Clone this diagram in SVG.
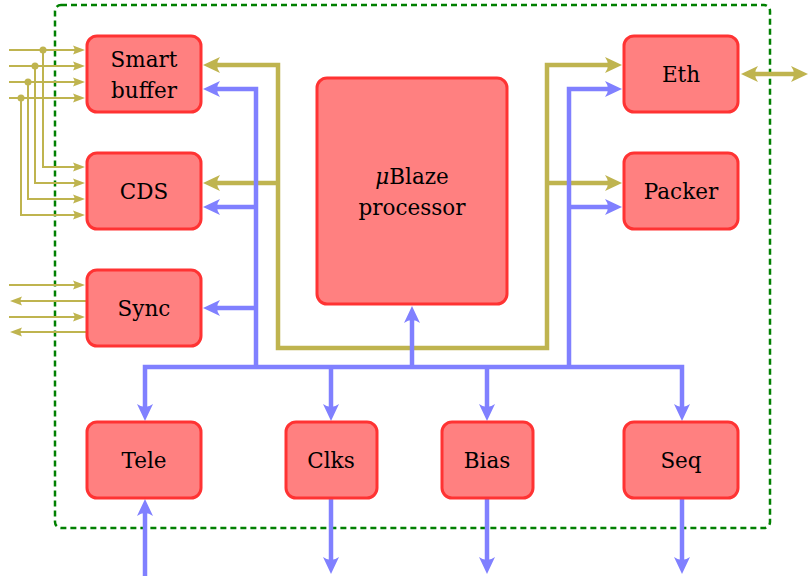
<svg xmlns="http://www.w3.org/2000/svg" width="810" height="576" viewBox="0 0 810 576">
<style>
.box{fill:#FF8080;stroke:#FF3333;stroke-width:3}
.gold{fill:none;stroke:#BFB44F;stroke-width:4.5}
.blue{fill:none;stroke:#8080FF;stroke-width:4.5}
.thin{fill:none;stroke:#BFB44F;stroke-width:2}
text{font-family:"DejaVu Serif",serif;font-size:21.5px;text-anchor:middle;fill:#000}
</style>
<defs>
<marker id="ag" markerUnits="userSpaceOnUse" viewBox="-12 -9 20 18" refX="0" refY="0" markerWidth="20" markerHeight="18" orient="auto-start-reverse" overflow="visible"><path d="M6,0 L-11,-8 Q-5,0 -11,8 Z" fill="#BFB44F"/></marker>
<marker id="ab" markerUnits="userSpaceOnUse" viewBox="-12 -9 20 18" refX="0" refY="0" markerWidth="20" markerHeight="18" orient="auto-start-reverse" overflow="visible"><path d="M6,0 L-11,-8 Q-5,0 -11,8 Z" fill="#8080FF"/></marker>
<marker id="at" markerUnits="userSpaceOnUse" viewBox="-9 -6 15 12" refX="0" refY="0" markerWidth="15" markerHeight="12" orient="auto-start-reverse" overflow="visible"><path d="M5,0 L-7,-4.5 Q-4,0 -7,4.5 Z" fill="#BFB44F"/></marker>
</defs>
<rect x="55" y="5" width="715" height="523" rx="6" fill="none" stroke="#008000" stroke-width="2.5" stroke-dasharray="6,4"/>
<g id="connectors">
<path class="gold" d="M209,65 H278 V348 H547 V65 H616" marker-start="url(#ag)" marker-end="url(#ag)"/>
<path class="gold" d="M278,183 H209" marker-end="url(#ag)"/>
<path class="gold" d="M547,183 H616" marker-end="url(#ag)"/>
<path class="gold" d="M747,74 H802" marker-start="url(#ag)" marker-end="url(#ag)"/>
<path class="blue" d="M145,415 V367 H682 V415" marker-start="url(#ab)" marker-end="url(#ab)"/>
<path class="blue" d="M209,89 H256 V367" marker-start="url(#ab)"/>
<path class="blue" d="M256,207 H209" marker-end="url(#ab)"/>
<path class="blue" d="M256,308 H209" marker-end="url(#ab)"/>
<path class="blue" d="M569,367 V89 H616" marker-end="url(#ab)"/>
<path class="blue" d="M569,207 H616" marker-end="url(#ab)"/>
<path class="blue" d="M412,367 V312" marker-end="url(#ab)"/>
<path class="blue" d="M331,367 V415" marker-end="url(#ab)"/>
<path class="blue" d="M487,367 V415" marker-end="url(#ab)"/>
<path class="blue" d="M145,576 V505" marker-end="url(#ab)"/>
<path class="blue" d="M331,499 V568" marker-end="url(#ab)"/>
<path class="blue" d="M487,499 V568" marker-end="url(#ab)"/>
<path class="blue" d="M682,499 V568" marker-end="url(#ab)"/>
<path class="thin" d="M9,50 H80" marker-end="url(#at)"/>
<path class="thin" d="M9,66 H80" marker-end="url(#at)"/>
<path class="thin" d="M9,82 H80" marker-end="url(#at)"/>
<path class="thin" d="M9,98 H80" marker-end="url(#at)"/>
<path class="thin" d="M43,50 V167 H80" marker-end="url(#at)"/>
<path class="thin" d="M35,66 V183 H80" marker-end="url(#at)"/>
<path class="thin" d="M28,82 V199 H80" marker-end="url(#at)"/>
<path class="thin" d="M21,98 V215 H80" marker-end="url(#at)"/>
<g fill="#BFB44F"><circle cx="43" cy="50" r="3.5"/><circle cx="35" cy="66" r="3.5"/><circle cx="28" cy="82" r="3.5"/><circle cx="21" cy="98" r="3.5"/></g>
<path class="thin" d="M9,285 H80" marker-end="url(#at)"/>
<path class="thin" d="M86,301 H15" marker-end="url(#at)"/>
<path class="thin" d="M9,317 H80" marker-end="url(#at)"/>
<path class="thin" d="M86,332 H15" marker-end="url(#at)"/>
</g>
<g id="smartbuffer"><rect class="box" x="87" y="36" width="114" height="76" rx="10"/><text x="144" y="67">Smart</text><text x="144" y="98">buffer</text></g>
<g id="cds"><rect class="box" x="87" y="153" width="114" height="76" rx="10"/><text x="144" y="199">CDS</text></g>
<g id="sync"><rect class="box" x="87" y="270" width="114" height="76" rx="10"/><text x="144" y="316">Sync</text></g>
<g id="ublaze"><rect class="box" x="317" y="78" width="190" height="226" rx="10"/><text x="412" y="184"><tspan font-style="italic">μ</tspan>Blaze</text><text x="412" y="215">processor</text></g>
<g id="eth"><rect class="box" x="624" y="36" width="114" height="76" rx="10"/><text x="681" y="82">Eth</text></g>
<g id="packer"><rect class="box" x="624" y="153" width="114" height="76" rx="10"/><text x="681" y="199">Packer</text></g>
<g id="tele"><rect class="box" x="87" y="422" width="114" height="76" rx="10"/><text x="144" y="468">Tele</text></g>
<g id="clks"><rect class="box" x="286" y="422" width="91" height="76" rx="10"/><text x="331" y="468">Clks</text></g>
<g id="bias"><rect class="box" x="442" y="422" width="91" height="76" rx="10"/><text x="487" y="468">Bias</text></g>
<g id="seq"><rect class="box" x="624" y="422" width="114" height="76" rx="10"/><text x="681" y="468">Seq</text></g>
</svg>
